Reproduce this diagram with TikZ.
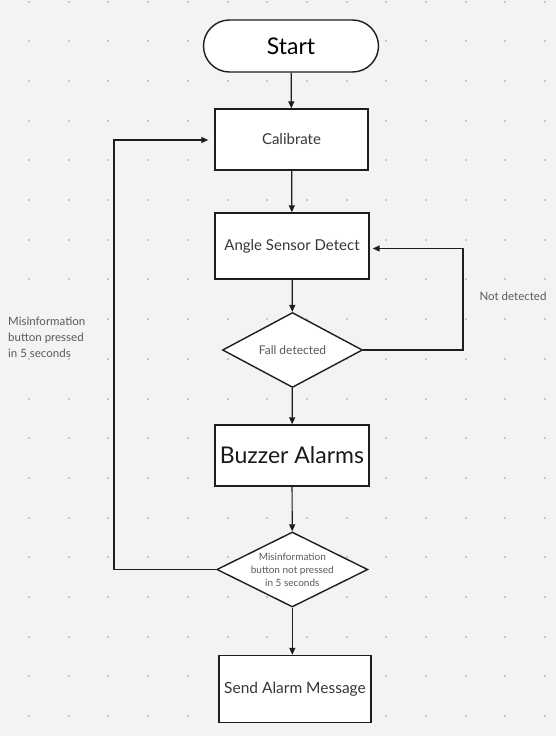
\documentclass[tikz,border=0pt]{standalone}
\usepackage{fontspec}
\setmainfont{Lato}
\usetikzlibrary{shapes.geometric,arrows.meta}
\definecolor{bgcol}{RGB}{243,243,245}
\definecolor{dotcol}{RGB}{200,200,204}
\definecolor{linecol}{RGB}{30,30,30}
\definecolor{txtcol}{RGB}{55,55,55}
\definecolor{lighttxt}{RGB}{90,90,90}
\begin{document}
\begin{tikzpicture}[x=1pt,y=-1pt]
				\tikzstyle{Box} = [rectangle, draw=linecol, line width=1.4pt, fill=white, inner sep=0pt, text=txtcol]
				\tikzstyle{Decision} = [diamond, draw=linecol, line width=1.4pt, fill=white, inner sep=0pt]
				\tikzstyle{Flow} = [line width=1.2pt, draw=linecol, -{Triangle[length=7pt,width=6pt]}]
				\tikzstyle{Note} = [inner sep=0pt, text=lighttxt]
				% background and dot grid
				\fill[bgcol] (0,0) rectangle (556,736);
				\foreach \i in {0,...,13}
					\foreach \j in {0,...,18}
						\fill[dotcol] ({29+39.7*\i-1},{1.5+39.7*\j-1}) rectangle ++(2,2);
				% blocks
				\node (1) at (291,46) [Box, rounded corners=26pt, minimum width=175, minimum height=52, text=black] {\fontsize{23}{26}\selectfont Start};
				\node (2) at (291.5,139.5) [Box, minimum width=153, minimum height=61] {\fontsize{15}{18}\selectfont Calibrate};
				\node (3) at (292,246) [Box, minimum width=154, minimum height=66] {\fontsize{15}{18}\selectfont Angle Sensor Detect};
				\node (4) at (292.5,350) [Decision, minimum width=140, minimum height=75, label={[text=lighttxt]center:\fontsize{12}{14}\selectfont Fall detected}] {};
				\node (5) at (292,455.5) [Box, minimum width=154, minimum height=61, text=black!90] {\fontsize{23}{28}\selectfont Buzzer Alarms};
				\node (6) at (292.3,569.5) [Decision, minimum width=151, minimum height=75, label={[text=lighttxt, align=center, font=\fontsize{10}{13}\selectfont]center:Misinformation\\button not pressed\\in 5 seconds}] {};
				\node (7) at (295,689) [Box, minimum width=152, minimum height=67] {\fontsize{15.5}{18}\selectfont Send Alarm Message};
				% labels
				\node (8) at (513,296) [Note] {\fontsize{11.5}{14}\selectfont Not detected};
				\node (9) at (8,337) [Note, anchor=west, align=left, font=\fontsize{11.5}{16}\selectfont] {Misinformation\\button pressed\\in 5 seconds};
				\coordinate (r) at (463,248.5);
				\coordinate (l) at (114,140);
				% connectors
				\draw [Flow] (1) to (2);
				\draw [Flow] (2) to (3);
				\draw [Flow] (3) to (4);
				\draw [Flow] (4) to (5);
				\draw [Flow] (5) to (6);
				\draw [Flow] (6.south) to (6.south |- 7.north);
				\draw [Flow, shorten >=3pt] (4.east) -| (r) -- (3.east |- r);
				\draw [Flow, shorten >=6pt] (6.west) -| (l) -- (2.west |- l);
			\end{tikzpicture}
\end{document}
